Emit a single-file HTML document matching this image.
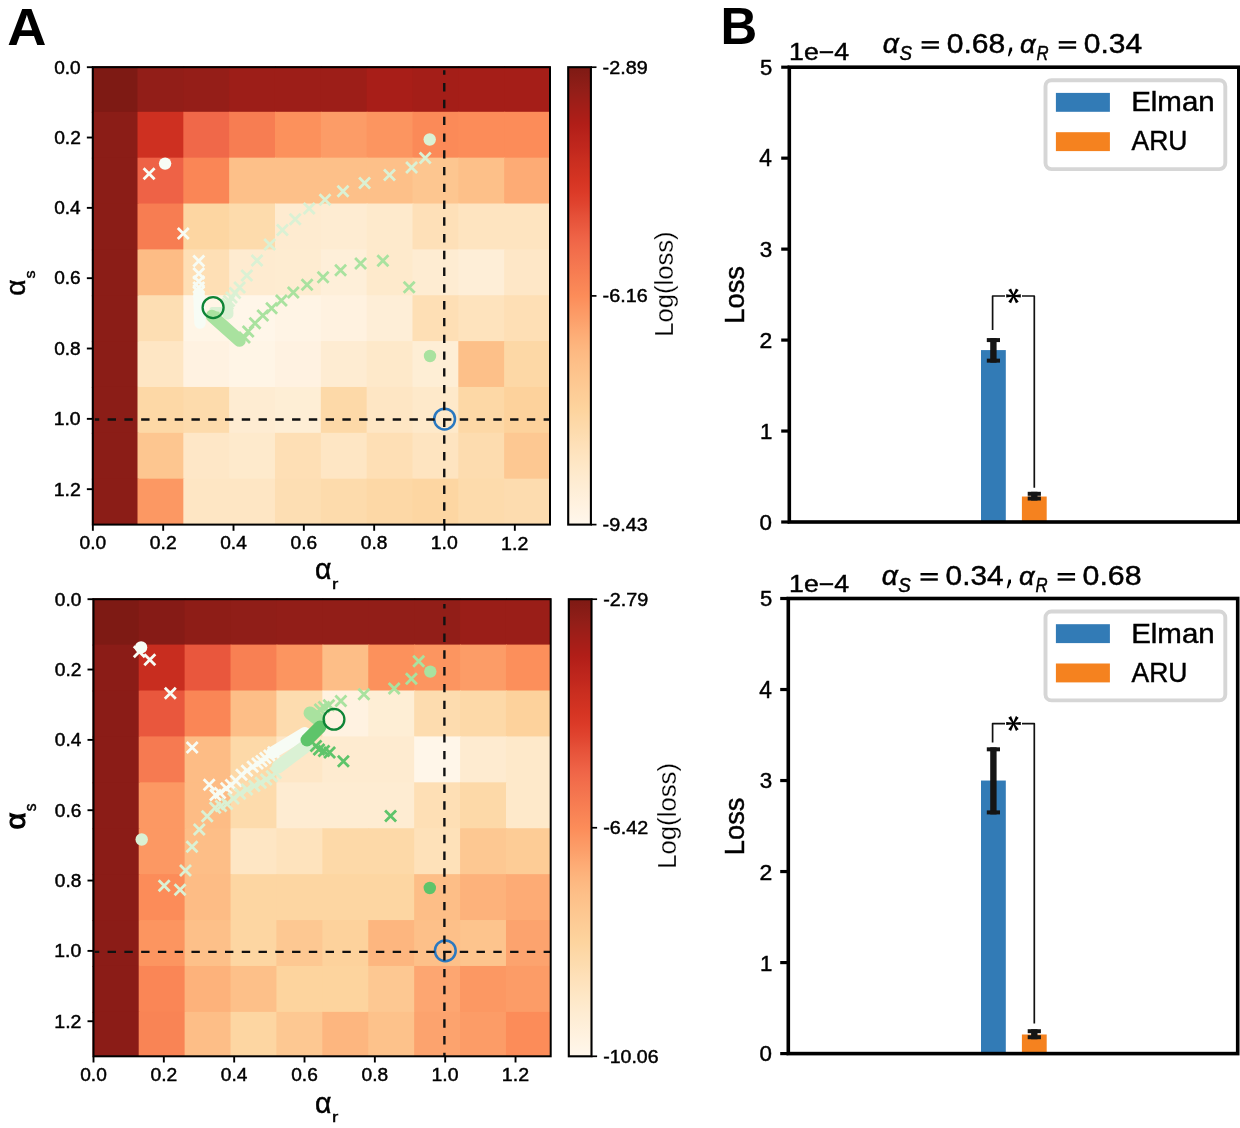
<!DOCTYPE html>
<html><head><meta charset="utf-8"><style>
html,body{margin:0;padding:0;background:#fff;width:1240px;height:1128px;overflow:hidden}
svg{display:block;will-change:transform}
text{font-family:"Liberation Sans", sans-serif}
</style></head><body>
<svg width="1240" height="1128" viewBox="0 0 1240 1128" font-family='"Liberation Sans", sans-serif'>
<rect width="1240" height="1128" fill="#fff"/>
<text x="7.37" y="45.23" font-size="52.50" textLength="39.17" lengthAdjust="spacingAndGlyphs" font-weight="bold" font-style="normal" fill="#000">A</text>
<text x="720.44" y="43.90" font-size="52.32" textLength="36.70" lengthAdjust="spacingAndGlyphs" font-weight="bold" font-style="normal" fill="#000">B</text>
<rect x="91.85" y="66.20" width="46.65" height="46.60" fill="#7e1a14"/>
<rect x="137.50" y="66.20" width="46.83" height="46.60" fill="#921e18"/>
<rect x="183.33" y="66.20" width="46.83" height="46.60" fill="#951e18"/>
<rect x="229.16" y="66.20" width="46.83" height="46.60" fill="#9d1e18"/>
<rect x="274.99" y="66.20" width="46.83" height="46.60" fill="#9d1e18"/>
<rect x="320.82" y="66.20" width="46.83" height="46.60" fill="#9d1e18"/>
<rect x="366.65" y="66.20" width="46.83" height="46.60" fill="#a81e18"/>
<rect x="412.48" y="66.20" width="46.83" height="46.60" fill="#a41e18"/>
<rect x="458.31" y="66.20" width="46.83" height="46.60" fill="#a51e18"/>
<rect x="504.14" y="66.20" width="46.16" height="46.60" fill="#a51e18"/>
<rect x="91.85" y="111.80" width="46.65" height="46.86" fill="#8b1d17"/>
<rect x="137.50" y="111.80" width="46.83" height="46.86" fill="#ce3021"/>
<rect x="183.33" y="111.80" width="46.83" height="46.86" fill="#f06849"/>
<rect x="229.16" y="111.80" width="46.83" height="46.86" fill="#f77d52"/>
<rect x="274.99" y="111.80" width="46.83" height="46.86" fill="#fc915c"/>
<rect x="320.82" y="111.80" width="46.83" height="46.86" fill="#fc9c67"/>
<rect x="366.65" y="111.80" width="46.83" height="46.86" fill="#fc9560"/>
<rect x="412.48" y="111.80" width="46.83" height="46.86" fill="#fb8a58"/>
<rect x="458.31" y="111.80" width="46.83" height="46.86" fill="#fc8c59"/>
<rect x="504.14" y="111.80" width="46.16" height="46.86" fill="#fc8c59"/>
<rect x="91.85" y="157.66" width="46.65" height="46.86" fill="#8b1d17"/>
<rect x="137.50" y="157.66" width="46.83" height="46.86" fill="#ee6246"/>
<rect x="183.33" y="157.66" width="46.83" height="46.86" fill="#fa8656"/>
<rect x="229.16" y="157.66" width="46.83" height="46.86" fill="#fdc089"/>
<rect x="274.99" y="157.66" width="46.83" height="46.86" fill="#fdc089"/>
<rect x="320.82" y="157.66" width="46.83" height="46.86" fill="#fdc089"/>
<rect x="366.65" y="157.66" width="46.83" height="46.86" fill="#fdc089"/>
<rect x="412.48" y="157.66" width="46.83" height="46.86" fill="#fdc690"/>
<rect x="458.31" y="157.66" width="46.83" height="46.86" fill="#fdc089"/>
<rect x="504.14" y="157.66" width="46.16" height="46.86" fill="#fdab75"/>
<rect x="91.85" y="203.52" width="46.65" height="46.86" fill="#8b1d17"/>
<rect x="137.50" y="203.52" width="46.83" height="46.86" fill="#f77d52"/>
<rect x="183.33" y="203.52" width="46.83" height="46.86" fill="#fdd6a2"/>
<rect x="229.16" y="203.52" width="46.83" height="46.86" fill="#fddbac"/>
<rect x="274.99" y="203.52" width="46.83" height="46.86" fill="#feebd0"/>
<rect x="320.82" y="203.52" width="46.83" height="46.86" fill="#feecd2"/>
<rect x="366.65" y="203.52" width="46.83" height="46.86" fill="#feeacc"/>
<rect x="412.48" y="203.52" width="46.83" height="46.86" fill="#fee0b8"/>
<rect x="458.31" y="203.52" width="46.83" height="46.86" fill="#fee4c0"/>
<rect x="504.14" y="203.52" width="46.16" height="46.86" fill="#fee4c0"/>
<rect x="91.85" y="249.38" width="46.65" height="46.86" fill="#8b1d17"/>
<rect x="137.50" y="249.38" width="46.83" height="46.86" fill="#fdbc85"/>
<rect x="183.33" y="249.38" width="46.83" height="46.86" fill="#fedfb5"/>
<rect x="229.16" y="249.38" width="46.83" height="46.86" fill="#feebd0"/>
<rect x="274.99" y="249.38" width="46.83" height="46.86" fill="#feecd1"/>
<rect x="320.82" y="249.38" width="46.83" height="46.86" fill="#feefd9"/>
<rect x="366.65" y="249.38" width="46.83" height="46.86" fill="#feeacc"/>
<rect x="412.48" y="249.38" width="46.83" height="46.86" fill="#feecd2"/>
<rect x="458.31" y="249.38" width="46.83" height="46.86" fill="#feeed7"/>
<rect x="504.14" y="249.38" width="46.16" height="46.86" fill="#fee7c7"/>
<rect x="91.85" y="295.24" width="46.65" height="46.86" fill="#8b1d17"/>
<rect x="137.50" y="295.24" width="46.83" height="46.86" fill="#fddeb3"/>
<rect x="183.33" y="295.24" width="46.83" height="46.86" fill="#fff5e6"/>
<rect x="229.16" y="295.24" width="46.83" height="46.86" fill="#fff6e9"/>
<rect x="274.99" y="295.24" width="46.83" height="46.86" fill="#fff4e5"/>
<rect x="320.82" y="295.24" width="46.83" height="46.86" fill="#fff2e0"/>
<rect x="366.65" y="295.24" width="46.83" height="46.86" fill="#feeed7"/>
<rect x="412.48" y="295.24" width="46.83" height="46.86" fill="#fedfb5"/>
<rect x="458.31" y="295.24" width="46.83" height="46.86" fill="#fee3bd"/>
<rect x="504.14" y="295.24" width="46.16" height="46.86" fill="#fedfb5"/>
<rect x="91.85" y="341.10" width="46.65" height="46.86" fill="#8b1d17"/>
<rect x="137.50" y="341.10" width="46.83" height="46.86" fill="#fee6c4"/>
<rect x="183.33" y="341.10" width="46.83" height="46.86" fill="#fff2e1"/>
<rect x="229.16" y="341.10" width="46.83" height="46.86" fill="#fff5e6"/>
<rect x="274.99" y="341.10" width="46.83" height="46.86" fill="#fff2e1"/>
<rect x="320.82" y="341.10" width="46.83" height="46.86" fill="#feecd2"/>
<rect x="366.65" y="341.10" width="46.83" height="46.86" fill="#fee9ca"/>
<rect x="412.48" y="341.10" width="46.83" height="46.86" fill="#feeed5"/>
<rect x="458.31" y="341.10" width="46.83" height="46.86" fill="#fdc089"/>
<rect x="504.14" y="341.10" width="46.16" height="46.86" fill="#fdd8a6"/>
<rect x="91.85" y="386.96" width="46.65" height="46.86" fill="#8b1d17"/>
<rect x="137.50" y="386.96" width="46.83" height="46.86" fill="#fdd8a6"/>
<rect x="183.33" y="386.96" width="46.83" height="46.86" fill="#fddbac"/>
<rect x="229.16" y="386.96" width="46.83" height="46.86" fill="#feecd2"/>
<rect x="274.99" y="386.96" width="46.83" height="46.86" fill="#feeed5"/>
<rect x="320.82" y="386.96" width="46.83" height="46.86" fill="#fdd9a8"/>
<rect x="366.65" y="386.96" width="46.83" height="46.86" fill="#fee6c4"/>
<rect x="412.48" y="386.96" width="46.83" height="46.86" fill="#fee9ca"/>
<rect x="458.31" y="386.96" width="46.83" height="46.86" fill="#fdd8a6"/>
<rect x="504.14" y="386.96" width="46.16" height="46.86" fill="#fdd29c"/>
<rect x="91.85" y="432.82" width="46.65" height="46.86" fill="#8b1d17"/>
<rect x="137.50" y="432.82" width="46.83" height="46.86" fill="#fdc690"/>
<rect x="183.33" y="432.82" width="46.83" height="46.86" fill="#fee7c7"/>
<rect x="229.16" y="432.82" width="46.83" height="46.86" fill="#feeacc"/>
<rect x="274.99" y="432.82" width="46.83" height="46.86" fill="#fedfb5"/>
<rect x="320.82" y="432.82" width="46.83" height="46.86" fill="#fee6c4"/>
<rect x="366.65" y="432.82" width="46.83" height="46.86" fill="#fedfb5"/>
<rect x="412.48" y="432.82" width="46.83" height="46.86" fill="#fee4c0"/>
<rect x="458.31" y="432.82" width="46.83" height="46.86" fill="#fddcaf"/>
<rect x="504.14" y="432.82" width="46.16" height="46.86" fill="#fdc892"/>
<rect x="91.85" y="478.68" width="46.65" height="46.22" fill="#8b1d17"/>
<rect x="137.50" y="478.68" width="46.83" height="46.22" fill="#fc9863"/>
<rect x="183.33" y="478.68" width="46.83" height="46.22" fill="#fee6c4"/>
<rect x="229.16" y="478.68" width="46.83" height="46.22" fill="#fee6c4"/>
<rect x="274.99" y="478.68" width="46.83" height="46.22" fill="#fddeb3"/>
<rect x="320.82" y="478.68" width="46.83" height="46.22" fill="#fddbac"/>
<rect x="366.65" y="478.68" width="46.83" height="46.22" fill="#fdd8a6"/>
<rect x="412.48" y="478.68" width="46.83" height="46.22" fill="#fdd6a2"/>
<rect x="458.31" y="478.68" width="46.83" height="46.22" fill="#fddbac"/>
<rect x="504.14" y="478.68" width="46.16" height="46.22" fill="#fddcaf"/>
<circle cx="165.10" cy="163.60" r="6.20" fill="#f7fcf5"/>
<path d="M143.60 168.30L154.60 179.30M143.60 179.30L154.60 168.30" stroke="#f7fcf5" stroke-width="2.80" fill="none"/>
<path d="M177.80 228.00L188.80 239.00M177.80 239.00L188.80 228.00" stroke="#f7fcf5" stroke-width="2.80" fill="none"/>
<path d="M193.30 255.50L204.30 266.50M193.30 266.50L204.30 255.50" stroke="#f7fcf5" stroke-width="2.80" fill="none"/>
<path d="M193.30 267.90L204.30 278.90M193.30 278.90L204.30 267.90" stroke="#f7fcf5" stroke-width="2.80" fill="none"/>
<path d="M193.30 276.00L204.30 287.00M193.30 287.00L204.30 276.00" stroke="#f7fcf5" stroke-width="2.80" fill="none"/>
<path d="M193.30 282.00L204.30 293.00M193.30 293.00L204.30 282.00" stroke="#f7fcf5" stroke-width="2.80" fill="none"/>
<path d="M193.30 286.50L204.30 297.50M193.30 297.50L204.30 286.50" stroke="#f7fcf5" stroke-width="2.80" fill="none"/>
<path d="M199.00 294.00 L199.50 310.00 L200.00 323.00" stroke="#f7fcf5" stroke-width="11.50" fill="none" stroke-linecap="round" stroke-linejoin="round"/>
<circle cx="429.70" cy="139.50" r="6.20" fill="#daf1d4"/>
<path d="M419.70 152.50L430.70 163.50M419.70 163.50L430.70 152.50" stroke="#daf1d4" stroke-width="2.80" fill="none"/>
<path d="M406.10 162.10L417.10 173.10M406.10 173.10L417.10 162.10" stroke="#daf1d4" stroke-width="2.80" fill="none"/>
<path d="M384.00 169.50L395.00 180.50M384.00 180.50L395.00 169.50" stroke="#daf1d4" stroke-width="2.80" fill="none"/>
<path d="M359.10 177.50L370.10 188.50M359.10 188.50L370.10 177.50" stroke="#daf1d4" stroke-width="2.80" fill="none"/>
<path d="M337.50 185.80L348.50 196.80M337.50 196.80L348.50 185.80" stroke="#daf1d4" stroke-width="2.80" fill="none"/>
<path d="M319.50 194.30L330.50 205.30M319.50 205.30L330.50 194.30" stroke="#daf1d4" stroke-width="2.80" fill="none"/>
<path d="M303.70 203.10L314.70 214.10M303.70 214.10L314.70 203.10" stroke="#daf1d4" stroke-width="2.80" fill="none"/>
<path d="M289.70 213.80L300.70 224.80M289.70 224.80L300.70 213.80" stroke="#daf1d4" stroke-width="2.80" fill="none"/>
<path d="M276.90 224.60L287.90 235.60M276.90 235.60L287.90 224.60" stroke="#daf1d4" stroke-width="2.80" fill="none"/>
<path d="M264.20 238.90L275.20 249.90M264.20 249.90L275.20 238.90" stroke="#daf1d4" stroke-width="2.80" fill="none"/>
<path d="M251.50 255.00L262.50 266.00M251.50 266.00L262.50 255.00" stroke="#daf1d4" stroke-width="2.80" fill="none"/>
<path d="M241.30 270.10L252.30 281.10M241.30 281.10L252.30 270.10" stroke="#daf1d4" stroke-width="2.80" fill="none"/>
<path d="M234.10 281.90L245.10 292.90M234.10 292.90L245.10 281.90" stroke="#daf1d4" stroke-width="2.80" fill="none"/>
<path d="M229.50 287.50L240.50 298.50M229.50 298.50L240.50 287.50" stroke="#daf1d4" stroke-width="2.80" fill="none"/>
<path d="M226.00 292.00L237.00 303.00M226.00 303.00L237.00 292.00" stroke="#daf1d4" stroke-width="2.80" fill="none"/>
<path d="M223.50 295.50L234.50 306.50M223.50 306.50L234.50 295.50" stroke="#daf1d4" stroke-width="2.80" fill="none"/>
<path d="M222.00 298.50L233.00 309.50M222.00 309.50L233.00 298.50" stroke="#daf1d4" stroke-width="2.80" fill="none"/>
<path d="M227.50 307.00 L228.00 314.00" stroke="#daf1d4" stroke-width="11.00" fill="none" stroke-linecap="round" stroke-linejoin="round"/>
<path d="M212.00 309.50 L221.00 309.50" stroke="#daf1d4" stroke-width="5.00" fill="none" stroke-linecap="round" stroke-linejoin="round"/>
<circle cx="430.00" cy="356.00" r="6.20" fill="#a9e29f"/>
<path d="M403.70 281.70L414.70 292.70M403.70 292.70L414.70 281.70" stroke="#a9e29f" stroke-width="2.80" fill="none"/>
<path d="M377.40 255.20L388.40 266.20M377.40 266.20L388.40 255.20" stroke="#a9e29f" stroke-width="2.80" fill="none"/>
<path d="M355.10 258.10L366.10 269.10M355.10 269.10L366.10 258.10" stroke="#a9e29f" stroke-width="2.80" fill="none"/>
<path d="M335.10 264.80L346.10 275.80M335.10 275.80L346.10 264.80" stroke="#a9e29f" stroke-width="2.80" fill="none"/>
<path d="M317.60 271.70L328.60 282.70M317.60 282.70L328.60 271.70" stroke="#a9e29f" stroke-width="2.80" fill="none"/>
<path d="M301.60 279.20L312.60 290.20M301.60 290.20L312.60 279.20" stroke="#a9e29f" stroke-width="2.80" fill="none"/>
<path d="M287.80 286.90L298.80 297.90M287.80 297.90L298.80 286.90" stroke="#a9e29f" stroke-width="2.80" fill="none"/>
<path d="M275.90 294.90L286.90 305.90M275.90 305.90L286.90 294.90" stroke="#a9e29f" stroke-width="2.80" fill="none"/>
<path d="M266.10 302.70L277.10 313.70M266.10 313.70L277.10 302.70" stroke="#a9e29f" stroke-width="2.80" fill="none"/>
<path d="M257.30 310.00L268.30 321.00M257.30 321.00L268.30 310.00" stroke="#a9e29f" stroke-width="2.80" fill="none"/>
<path d="M249.50 317.80L260.50 328.80M249.50 328.80L260.50 317.80" stroke="#a9e29f" stroke-width="2.80" fill="none"/>
<path d="M242.70 326.10L253.70 337.10M242.70 337.10L253.70 326.10" stroke="#a9e29f" stroke-width="2.80" fill="none"/>
<path d="M239.00 332.00L250.00 343.00M239.00 343.00L250.00 332.00" stroke="#a9e29f" stroke-width="2.80" fill="none"/>
<path d="M212.00 316.00 L239.50 340.50" stroke="#a9e29f" stroke-width="12.50" fill="none" stroke-linecap="round" stroke-linejoin="round"/>
<path d="M209.00 313.50 L218.00 313.50" stroke="#a9e29f" stroke-width="4.00" fill="none" stroke-linecap="round" stroke-linejoin="round"/>
<circle cx="213.10" cy="307.60" r="10.50" fill="none" stroke="#0e8436" stroke-width="2.30"/>
<circle cx="444.60" cy="419.05" r="10.40" fill="none" stroke="#2a78c0" stroke-width="2.50"/>
<line x1="444.25" y1="70.20" x2="444.25" y2="524.60" stroke="#111" stroke-width="2.4" stroke-dasharray="8.4 8.37" stroke-dashoffset="3.87"/>
<line x1="94.80" y1="419.50" x2="550.00" y2="419.50" stroke="#111" stroke-width="2.4" stroke-dasharray="8.4 8.37" stroke-dashoffset="3.97"/>
<rect x="92.85" y="67.20" width="457.15" height="457.40" fill="none" stroke="#000" stroke-width="2.0"/>
<line x1="86.85" y1="67.20" x2="92.85" y2="67.20" stroke="#000" stroke-width="1.9"/>
<line x1="92.85" y1="524.60" x2="92.85" y2="530.80" stroke="#000" stroke-width="1.9"/>
<text x="54.16" y="73.50" font-size="17.96" textLength="26.48" lengthAdjust="spacingAndGlyphs" font-weight="normal" font-style="normal" fill="#000" stroke="#000" stroke-width="0.45">0.0</text>
<text x="79.56" y="549.49" font-size="18.24" textLength="26.58" lengthAdjust="spacingAndGlyphs" font-weight="normal" font-style="normal" fill="#000" stroke="#000" stroke-width="0.45">0.0</text>
<line x1="86.85" y1="137.53" x2="92.85" y2="137.53" stroke="#000" stroke-width="1.9"/>
<line x1="163.18" y1="524.60" x2="163.18" y2="530.80" stroke="#000" stroke-width="1.9"/>
<text x="54.16" y="143.83" font-size="17.96" textLength="26.68" lengthAdjust="spacingAndGlyphs" font-weight="normal" font-style="normal" fill="#000" stroke="#000" stroke-width="0.45">0.2</text>
<text x="149.88" y="549.49" font-size="18.24" textLength="26.79" lengthAdjust="spacingAndGlyphs" font-weight="normal" font-style="normal" fill="#000" stroke="#000" stroke-width="0.45">0.2</text>
<line x1="86.85" y1="207.86" x2="92.85" y2="207.86" stroke="#000" stroke-width="1.9"/>
<line x1="233.51" y1="524.60" x2="233.51" y2="530.80" stroke="#000" stroke-width="1.9"/>
<text x="54.16" y="214.16" font-size="17.96" textLength="26.48" lengthAdjust="spacingAndGlyphs" font-weight="normal" font-style="normal" fill="#000" stroke="#000" stroke-width="0.45">0.4</text>
<text x="220.22" y="549.49" font-size="18.24" textLength="26.58" lengthAdjust="spacingAndGlyphs" font-weight="normal" font-style="normal" fill="#000" stroke="#000" stroke-width="0.45">0.4</text>
<line x1="86.85" y1="278.19" x2="92.85" y2="278.19" stroke="#000" stroke-width="1.9"/>
<line x1="303.84" y1="524.60" x2="303.84" y2="530.80" stroke="#000" stroke-width="1.9"/>
<text x="54.16" y="284.49" font-size="17.96" textLength="26.48" lengthAdjust="spacingAndGlyphs" font-weight="normal" font-style="normal" fill="#000" stroke="#000" stroke-width="0.45">0.6</text>
<text x="290.55" y="549.49" font-size="18.24" textLength="26.58" lengthAdjust="spacingAndGlyphs" font-weight="normal" font-style="normal" fill="#000" stroke="#000" stroke-width="0.45">0.6</text>
<line x1="86.85" y1="348.52" x2="92.85" y2="348.52" stroke="#000" stroke-width="1.9"/>
<line x1="374.17" y1="524.60" x2="374.17" y2="530.80" stroke="#000" stroke-width="1.9"/>
<text x="54.16" y="354.82" font-size="17.96" textLength="26.48" lengthAdjust="spacingAndGlyphs" font-weight="normal" font-style="normal" fill="#000" stroke="#000" stroke-width="0.45">0.8</text>
<text x="360.88" y="549.49" font-size="18.24" textLength="26.58" lengthAdjust="spacingAndGlyphs" font-weight="normal" font-style="normal" fill="#000" stroke="#000" stroke-width="0.45">0.8</text>
<line x1="86.85" y1="418.85" x2="92.85" y2="418.85" stroke="#000" stroke-width="1.9"/>
<line x1="444.50" y1="524.60" x2="444.50" y2="530.80" stroke="#000" stroke-width="1.9"/>
<text x="53.67" y="425.15" font-size="17.96" textLength="26.98" lengthAdjust="spacingAndGlyphs" font-weight="normal" font-style="normal" fill="#000" stroke="#000" stroke-width="0.45">1.0</text>
<text x="430.77" y="549.49" font-size="18.24" textLength="27.04" lengthAdjust="spacingAndGlyphs" font-weight="normal" font-style="normal" fill="#000" stroke="#000" stroke-width="0.45">1.0</text>
<line x1="86.85" y1="489.18" x2="92.85" y2="489.18" stroke="#000" stroke-width="1.9"/>
<line x1="514.83" y1="524.60" x2="514.83" y2="530.80" stroke="#000" stroke-width="1.9"/>
<text x="53.66" y="495.66" font-size="18.21" textLength="27.20" lengthAdjust="spacingAndGlyphs" font-weight="normal" font-style="normal" fill="#000" stroke="#000" stroke-width="0.45">1.2</text>
<text x="501.09" y="549.67" font-size="18.50" textLength="27.25" lengthAdjust="spacingAndGlyphs" font-weight="normal" font-style="normal" fill="#000" stroke="#000" stroke-width="0.45">1.2</text>
<text x="315.08" y="578.99" font-size="28.64" textLength="16.49" lengthAdjust="spacingAndGlyphs" font-weight="normal" font-style="normal" fill="#000" stroke="#000" stroke-width="0.45">&#945;</text>
<text x="331.90" y="588.67" font-size="15.46" textLength="6.33" lengthAdjust="spacingAndGlyphs" font-weight="normal" font-style="normal" fill="#000" stroke="#000" stroke-width="0.45">r</text>
<g transform="rotate(-90)">
<text x="-295.70" y="24.49" font-size="28.45" textLength="16.27" lengthAdjust="spacingAndGlyphs" font-weight="normal" font-style="normal" fill="#000" stroke="#000" stroke-width="0.45">&#945;</text>
</g>
<g transform="rotate(-90)">
<text x="-278.45" y="34.62" font-size="15.55" textLength="7.97" lengthAdjust="spacingAndGlyphs" font-weight="normal" font-style="normal" fill="#000" stroke="#000" stroke-width="0.45">s</text>
</g>
<defs><linearGradient id="g67" x1="0" y1="0" x2="0" y2="1"><stop offset="0.000" stop-color="#7e1a14"/><stop offset="0.025" stop-color="#881c16"/><stop offset="0.050" stop-color="#921e18"/><stop offset="0.075" stop-color="#9d1e18"/><stop offset="0.100" stop-color="#a71e18"/><stop offset="0.125" stop-color="#b11e18"/><stop offset="0.150" stop-color="#b9231b"/><stop offset="0.175" stop-color="#c0271d"/><stop offset="0.200" stop-color="#c82d1f"/><stop offset="0.225" stop-color="#cf3121"/><stop offset="0.250" stop-color="#d63523"/><stop offset="0.275" stop-color="#dc3b28"/><stop offset="0.300" stop-color="#e0442f"/><stop offset="0.325" stop-color="#e55038"/><stop offset="0.350" stop-color="#ea5a3f"/><stop offset="0.375" stop-color="#ef6447"/><stop offset="0.400" stop-color="#f26d4b"/><stop offset="0.425" stop-color="#f4754f"/><stop offset="0.450" stop-color="#f77d52"/><stop offset="0.475" stop-color="#f98556"/><stop offset="0.500" stop-color="#fc8c59"/><stop offset="0.525" stop-color="#fc9662"/><stop offset="0.550" stop-color="#fc9f6a"/><stop offset="0.575" stop-color="#fda973"/><stop offset="0.600" stop-color="#fdb27b"/><stop offset="0.625" stop-color="#fdba83"/><stop offset="0.650" stop-color="#fdc089"/><stop offset="0.675" stop-color="#fdc58e"/><stop offset="0.700" stop-color="#fdca94"/><stop offset="0.725" stop-color="#fdcf99"/><stop offset="0.750" stop-color="#fdd49e"/><stop offset="0.775" stop-color="#fdd8a7"/><stop offset="0.800" stop-color="#fddcaf"/><stop offset="0.825" stop-color="#fee0b8"/><stop offset="0.850" stop-color="#fee4c0"/><stop offset="0.875" stop-color="#fee8c8"/><stop offset="0.900" stop-color="#feebd0"/><stop offset="0.925" stop-color="#feeed7"/><stop offset="0.950" stop-color="#fff1de"/><stop offset="0.975" stop-color="#fff4e5"/><stop offset="1.000" stop-color="#fff7ec"/></linearGradient></defs>
<rect x="568.20" y="67.20" width="22.70" height="457.40" fill="url(#g67)" stroke="#000" stroke-width="2.1"/>
<line x1="590.90" y1="67.20" x2="596.50" y2="67.20" stroke="#000" stroke-width="1.7"/>
<text x="602.64" y="73.59" font-size="18.24" textLength="45.02" lengthAdjust="spacingAndGlyphs" font-weight="normal" font-style="normal" fill="#000" stroke="#000" stroke-width="0.45">-2.89</text>
<line x1="590.90" y1="295.90" x2="596.50" y2="295.90" stroke="#000" stroke-width="1.7"/>
<text x="602.64" y="302.29" font-size="18.24" textLength="45.02" lengthAdjust="spacingAndGlyphs" font-weight="normal" font-style="normal" fill="#000" stroke="#000" stroke-width="0.45">-6.16</text>
<line x1="590.90" y1="524.60" x2="596.50" y2="524.60" stroke="#000" stroke-width="1.7"/>
<text x="602.64" y="530.99" font-size="18.24" textLength="45.02" lengthAdjust="spacingAndGlyphs" font-weight="normal" font-style="normal" fill="#000" stroke="#000" stroke-width="0.45">-9.43</text>
<g transform="rotate(-90)">
<text x="-336.85" y="672.64" font-size="25.53" textLength="105.46" lengthAdjust="spacingAndGlyphs" font-weight="normal" font-style="normal" fill="#000" stroke="#fff" stroke-width="0.25">Log(loss)</text>
</g>
<rect x="92.50" y="598.20" width="47.20" height="47.40" fill="#7e1a14"/>
<rect x="138.70" y="598.20" width="46.91" height="47.40" fill="#861b16"/>
<rect x="184.61" y="598.20" width="46.91" height="47.40" fill="#8e1d17"/>
<rect x="230.52" y="598.20" width="46.91" height="47.40" fill="#901e18"/>
<rect x="276.43" y="598.20" width="46.91" height="47.40" fill="#921e18"/>
<rect x="322.34" y="598.20" width="46.91" height="47.40" fill="#921e18"/>
<rect x="368.25" y="598.20" width="46.91" height="47.40" fill="#921e18"/>
<rect x="414.16" y="598.20" width="46.91" height="47.40" fill="#921e18"/>
<rect x="460.07" y="598.20" width="46.91" height="47.40" fill="#9a1e18"/>
<rect x="505.98" y="598.20" width="45.02" height="47.40" fill="#9a1e18"/>
<rect x="92.50" y="644.60" width="47.20" height="46.91" fill="#8b1c17"/>
<rect x="138.70" y="644.60" width="46.91" height="46.91" fill="#c82d1f"/>
<rect x="184.61" y="644.60" width="46.91" height="46.91" fill="#e9573d"/>
<rect x="230.52" y="644.60" width="46.91" height="46.91" fill="#f88053"/>
<rect x="276.43" y="644.60" width="46.91" height="46.91" fill="#fc9560"/>
<rect x="322.34" y="644.60" width="46.91" height="46.91" fill="#fdbe87"/>
<rect x="368.25" y="644.60" width="46.91" height="46.91" fill="#fc915c"/>
<rect x="414.16" y="644.60" width="46.91" height="46.91" fill="#fc9560"/>
<rect x="460.07" y="644.60" width="46.91" height="46.91" fill="#fc9c67"/>
<rect x="505.98" y="644.60" width="45.02" height="46.91" fill="#fc8f5b"/>
<rect x="92.50" y="690.51" width="47.20" height="46.91" fill="#8b1c17"/>
<rect x="138.70" y="690.51" width="46.91" height="46.91" fill="#e9573d"/>
<rect x="184.61" y="690.51" width="46.91" height="46.91" fill="#fa8656"/>
<rect x="230.52" y="690.51" width="46.91" height="46.91" fill="#fdbe87"/>
<rect x="276.43" y="690.51" width="46.91" height="46.91" fill="#fddcaf"/>
<rect x="322.34" y="690.51" width="46.91" height="46.91" fill="#fff2e1"/>
<rect x="368.25" y="690.51" width="46.91" height="46.91" fill="#feeed5"/>
<rect x="414.16" y="690.51" width="46.91" height="46.91" fill="#fddcaf"/>
<rect x="460.07" y="690.51" width="46.91" height="46.91" fill="#fdd9a8"/>
<rect x="505.98" y="690.51" width="45.02" height="46.91" fill="#fdd29c"/>
<rect x="92.50" y="736.42" width="47.20" height="46.91" fill="#8b1c17"/>
<rect x="138.70" y="736.42" width="46.91" height="46.91" fill="#f67a51"/>
<rect x="184.61" y="736.42" width="46.91" height="46.91" fill="#fdbc85"/>
<rect x="230.52" y="736.42" width="46.91" height="46.91" fill="#fdd9a8"/>
<rect x="276.43" y="736.42" width="46.91" height="46.91" fill="#fee7c7"/>
<rect x="322.34" y="736.42" width="46.91" height="46.91" fill="#feebd0"/>
<rect x="368.25" y="736.42" width="46.91" height="46.91" fill="#feebd0"/>
<rect x="414.16" y="736.42" width="46.91" height="46.91" fill="#fff6e9"/>
<rect x="460.07" y="736.42" width="46.91" height="46.91" fill="#feebd0"/>
<rect x="505.98" y="736.42" width="45.02" height="46.91" fill="#fee9ca"/>
<rect x="92.50" y="782.33" width="47.20" height="46.91" fill="#8b1c17"/>
<rect x="138.70" y="782.33" width="46.91" height="46.91" fill="#fc9863"/>
<rect x="184.61" y="782.33" width="46.91" height="46.91" fill="#fdbc85"/>
<rect x="230.52" y="782.33" width="46.91" height="46.91" fill="#fddbac"/>
<rect x="276.43" y="782.33" width="46.91" height="46.91" fill="#feecd2"/>
<rect x="322.34" y="782.33" width="46.91" height="46.91" fill="#feecd2"/>
<rect x="368.25" y="782.33" width="46.91" height="46.91" fill="#feecd2"/>
<rect x="414.16" y="782.33" width="46.91" height="46.91" fill="#fedfb5"/>
<rect x="460.07" y="782.33" width="46.91" height="46.91" fill="#fdd9a8"/>
<rect x="505.98" y="782.33" width="45.02" height="46.91" fill="#fee9ca"/>
<rect x="92.50" y="828.24" width="47.20" height="46.91" fill="#8b1c17"/>
<rect x="138.70" y="828.24" width="46.91" height="46.91" fill="#fc9863"/>
<rect x="184.61" y="828.24" width="46.91" height="46.91" fill="#fdbe87"/>
<rect x="230.52" y="828.24" width="46.91" height="46.91" fill="#fee6c4"/>
<rect x="276.43" y="828.24" width="46.91" height="46.91" fill="#fee3bd"/>
<rect x="322.34" y="828.24" width="46.91" height="46.91" fill="#fdd9a8"/>
<rect x="368.25" y="828.24" width="46.91" height="46.91" fill="#fdd9a8"/>
<rect x="414.16" y="828.24" width="46.91" height="46.91" fill="#fee1b9"/>
<rect x="460.07" y="828.24" width="46.91" height="46.91" fill="#fdc892"/>
<rect x="505.98" y="828.24" width="45.02" height="46.91" fill="#fdcc96"/>
<rect x="92.50" y="874.15" width="47.20" height="46.91" fill="#8b1c17"/>
<rect x="138.70" y="874.15" width="46.91" height="46.91" fill="#fc8c59"/>
<rect x="184.61" y="874.15" width="46.91" height="46.91" fill="#fdbc85"/>
<rect x="230.52" y="874.15" width="46.91" height="46.91" fill="#fdd6a2"/>
<rect x="276.43" y="874.15" width="46.91" height="46.91" fill="#fdd6a2"/>
<rect x="322.34" y="874.15" width="46.91" height="46.91" fill="#fdd6a2"/>
<rect x="368.25" y="874.15" width="46.91" height="46.91" fill="#fdd6a2"/>
<rect x="414.16" y="874.15" width="46.91" height="46.91" fill="#fdbe87"/>
<rect x="460.07" y="874.15" width="46.91" height="46.91" fill="#fdb27b"/>
<rect x="505.98" y="874.15" width="45.02" height="46.91" fill="#fdab75"/>
<rect x="92.50" y="920.06" width="47.20" height="46.91" fill="#8b1c17"/>
<rect x="138.70" y="920.06" width="46.91" height="46.91" fill="#fc9560"/>
<rect x="184.61" y="920.06" width="46.91" height="46.91" fill="#fdc089"/>
<rect x="230.52" y="920.06" width="46.91" height="46.91" fill="#fdd6a2"/>
<rect x="276.43" y="920.06" width="46.91" height="46.91" fill="#fdc892"/>
<rect x="322.34" y="920.06" width="46.91" height="46.91" fill="#fdd29c"/>
<rect x="368.25" y="920.06" width="46.91" height="46.91" fill="#fdb67f"/>
<rect x="414.16" y="920.06" width="46.91" height="46.91" fill="#fdc089"/>
<rect x="460.07" y="920.06" width="46.91" height="46.91" fill="#fdc48d"/>
<rect x="505.98" y="920.06" width="45.02" height="46.91" fill="#fca36e"/>
<rect x="92.50" y="965.97" width="47.20" height="46.91" fill="#8b1c17"/>
<rect x="138.70" y="965.97" width="46.91" height="46.91" fill="#fa8656"/>
<rect x="184.61" y="965.97" width="46.91" height="46.91" fill="#fdb27b"/>
<rect x="230.52" y="965.97" width="46.91" height="46.91" fill="#fdc089"/>
<rect x="276.43" y="965.97" width="46.91" height="46.91" fill="#fdd49e"/>
<rect x="322.34" y="965.97" width="46.91" height="46.91" fill="#fdd49e"/>
<rect x="368.25" y="965.97" width="46.91" height="46.91" fill="#fdc892"/>
<rect x="414.16" y="965.97" width="46.91" height="46.91" fill="#fda671"/>
<rect x="460.07" y="965.97" width="46.91" height="46.91" fill="#fc9863"/>
<rect x="505.98" y="965.97" width="45.02" height="46.91" fill="#fc9c67"/>
<rect x="92.50" y="1011.88" width="47.20" height="44.72" fill="#8b1c17"/>
<rect x="138.70" y="1011.88" width="46.91" height="44.72" fill="#f98455"/>
<rect x="184.61" y="1011.88" width="46.91" height="44.72" fill="#fdbe87"/>
<rect x="230.52" y="1011.88" width="46.91" height="44.72" fill="#fdd6a2"/>
<rect x="276.43" y="1011.88" width="46.91" height="44.72" fill="#fdc892"/>
<rect x="322.34" y="1011.88" width="46.91" height="44.72" fill="#fdb67f"/>
<rect x="368.25" y="1011.88" width="46.91" height="44.72" fill="#fdc28b"/>
<rect x="414.16" y="1011.88" width="46.91" height="44.72" fill="#fca36e"/>
<rect x="460.07" y="1011.88" width="46.91" height="44.72" fill="#fc9c67"/>
<rect x="505.98" y="1011.88" width="45.02" height="44.72" fill="#fc8c59"/>
<circle cx="141.10" cy="647.40" r="6.20" fill="#f7fcf5"/>
<path d="M133.80 646.20L144.80 657.20M133.80 657.20L144.80 646.20" stroke="#f7fcf5" stroke-width="2.80" fill="none"/>
<path d="M144.30 654.30L155.30 665.30M144.30 665.30L155.30 654.30" stroke="#f7fcf5" stroke-width="2.80" fill="none"/>
<path d="M164.80 687.80L175.80 698.80M164.80 698.80L175.80 687.80" stroke="#f7fcf5" stroke-width="2.80" fill="none"/>
<path d="M186.70 742.00L197.70 753.00M186.70 753.00L197.70 742.00" stroke="#f7fcf5" stroke-width="2.80" fill="none"/>
<path d="M203.70 779.20L214.70 790.20M203.70 790.20L214.70 779.20" stroke="#f7fcf5" stroke-width="2.80" fill="none"/>
<path d="M210.00 789.50L221.00 800.50M210.00 800.50L221.00 789.50" stroke="#f7fcf5" stroke-width="2.80" fill="none"/>
<path d="M214.50 787.50L225.50 798.50M214.50 798.50L225.50 787.50" stroke="#f7fcf5" stroke-width="2.80" fill="none"/>
<path d="M220.80 782.80L231.80 793.80M220.80 793.80L231.80 782.80" stroke="#f7fcf5" stroke-width="2.80" fill="none"/>
<path d="M225.50 779.50L236.50 790.50M225.50 790.50L236.50 779.50" stroke="#f7fcf5" stroke-width="2.80" fill="none"/>
<path d="M230.50 775.50L241.50 786.50M230.50 786.50L241.50 775.50" stroke="#f7fcf5" stroke-width="2.80" fill="none"/>
<path d="M236.00 769.20L247.00 780.20M236.00 780.20L247.00 769.20" stroke="#f7fcf5" stroke-width="2.80" fill="none"/>
<path d="M241.50 765.20L252.50 776.20M241.50 776.20L252.50 765.20" stroke="#f7fcf5" stroke-width="2.80" fill="none"/>
<path d="M247.20 761.20L258.20 772.20M247.20 772.20L258.20 761.20" stroke="#f7fcf5" stroke-width="2.80" fill="none"/>
<path d="M252.00 758.00L263.00 769.00M252.00 769.00L263.00 758.00" stroke="#f7fcf5" stroke-width="2.80" fill="none"/>
<path d="M256.00 755.50L267.00 766.50M256.00 766.50L267.00 755.50" stroke="#f7fcf5" stroke-width="2.80" fill="none"/>
<path d="M259.90 752.50L270.90 763.50M259.90 763.50L270.90 752.50" stroke="#f7fcf5" stroke-width="2.80" fill="none"/>
<path d="M263.90 750.00L274.90 761.00M263.90 761.00L274.90 750.00" stroke="#f7fcf5" stroke-width="2.80" fill="none"/>
<path d="M267.90 746.80L278.90 757.80M267.90 757.80L278.90 746.80" stroke="#f7fcf5" stroke-width="2.80" fill="none"/>
<path d="M272.00 753.00 L305.00 733.00" stroke="#f7fcf5" stroke-width="12.00" fill="none" stroke-linecap="round" stroke-linejoin="round"/>
<circle cx="141.70" cy="839.50" r="6.20" fill="#daf1d4"/>
<path d="M158.70 880.30L169.70 891.30M158.70 891.30L169.70 880.30" stroke="#daf1d4" stroke-width="2.80" fill="none"/>
<path d="M174.60 884.20L185.60 895.20M174.60 895.20L185.60 884.20" stroke="#daf1d4" stroke-width="2.80" fill="none"/>
<path d="M180.00 865.10L191.00 876.10M180.00 876.10L191.00 865.10" stroke="#daf1d4" stroke-width="2.80" fill="none"/>
<path d="M186.50 841.30L197.50 852.30M186.50 852.30L197.50 841.30" stroke="#daf1d4" stroke-width="2.80" fill="none"/>
<path d="M193.80 823.90L204.80 834.90M193.80 834.90L204.80 823.90" stroke="#daf1d4" stroke-width="2.80" fill="none"/>
<path d="M201.70 810.70L212.70 821.70M201.70 821.70L212.70 810.70" stroke="#daf1d4" stroke-width="2.80" fill="none"/>
<path d="M209.70 802.30L220.70 813.30M209.70 813.30L220.70 802.30" stroke="#daf1d4" stroke-width="2.80" fill="none"/>
<path d="M215.50 800.50L226.50 811.50M215.50 811.50L226.50 800.50" stroke="#daf1d4" stroke-width="2.80" fill="none"/>
<path d="M221.50 798.50L232.50 809.50M221.50 809.50L232.50 798.50" stroke="#daf1d4" stroke-width="2.80" fill="none"/>
<path d="M228.00 793.10L239.00 804.10M228.00 804.10L239.00 793.10" stroke="#daf1d4" stroke-width="2.80" fill="none"/>
<path d="M234.50 788.30L245.50 799.30M234.50 799.30L245.50 788.30" stroke="#daf1d4" stroke-width="2.80" fill="none"/>
<path d="M241.50 784.00L252.50 795.00M241.50 795.00L252.50 784.00" stroke="#daf1d4" stroke-width="2.80" fill="none"/>
<path d="M248.80 780.40L259.80 791.40M248.80 791.40L259.80 780.40" stroke="#daf1d4" stroke-width="2.80" fill="none"/>
<path d="M255.20 777.20L266.20 788.20M255.20 788.20L266.20 777.20" stroke="#daf1d4" stroke-width="2.80" fill="none"/>
<path d="M260.70 774.00L271.70 785.00M260.70 785.00L271.70 774.00" stroke="#daf1d4" stroke-width="2.80" fill="none"/>
<path d="M266.30 770.80L277.30 781.80M266.30 781.80L277.30 770.80" stroke="#daf1d4" stroke-width="2.80" fill="none"/>
<path d="M270.30 767.60L281.30 778.60M270.30 778.60L281.30 767.60" stroke="#daf1d4" stroke-width="2.80" fill="none"/>
<path d="M278.00 767.00 L306.00 746.00" stroke="#daf1d4" stroke-width="13.00" fill="none" stroke-linecap="round" stroke-linejoin="round"/>
<circle cx="430.30" cy="671.60" r="6.20" fill="#a9e29f"/>
<path d="M413.20 655.80L424.20 666.80M413.20 666.80L424.20 655.80" stroke="#a9e29f" stroke-width="2.80" fill="none"/>
<path d="M405.90 673.20L416.90 684.20M405.90 684.20L416.90 673.20" stroke="#a9e29f" stroke-width="2.80" fill="none"/>
<path d="M388.70 682.90L399.70 693.90M388.70 693.90L399.70 682.90" stroke="#a9e29f" stroke-width="2.80" fill="none"/>
<path d="M358.40 688.70L369.40 699.70M358.40 699.70L369.40 688.70" stroke="#a9e29f" stroke-width="2.80" fill="none"/>
<path d="M335.40 695.50L346.40 706.50M335.40 706.50L346.40 695.50" stroke="#a9e29f" stroke-width="2.80" fill="none"/>
<path d="M323.40 699.70L334.40 710.70M323.40 710.70L334.40 699.70" stroke="#a9e29f" stroke-width="2.80" fill="none"/>
<path d="M318.50 701.50L329.50 712.50M318.50 712.50L329.50 701.50" stroke="#a9e29f" stroke-width="2.80" fill="none"/>
<path d="M314.50 704.00L325.50 715.00M314.50 715.00L325.50 704.00" stroke="#a9e29f" stroke-width="2.80" fill="none"/>
<path d="M310.00 713.00 L319.00 720.00" stroke="#a9e29f" stroke-width="13.00" fill="none" stroke-linecap="round" stroke-linejoin="round"/>
<circle cx="429.80" cy="888.00" r="6.20" fill="#5ec46a"/>
<path d="M385.10 810.60L396.10 821.60M385.10 821.60L396.10 810.60" stroke="#5ec46a" stroke-width="2.80" fill="none"/>
<path d="M337.90 755.80L348.90 766.80M337.90 766.80L348.90 755.80" stroke="#5ec46a" stroke-width="2.80" fill="none"/>
<path d="M324.10 746.90L335.10 757.90M324.10 757.90L335.10 746.90" stroke="#5ec46a" stroke-width="2.80" fill="none"/>
<path d="M318.50 745.50L329.50 756.50M318.50 756.50L329.50 745.50" stroke="#5ec46a" stroke-width="2.80" fill="none"/>
<path d="M313.50 744.10L324.50 755.10M313.50 755.10L324.50 744.10" stroke="#5ec46a" stroke-width="2.80" fill="none"/>
<path d="M310.50 740.50L321.50 751.50M310.50 751.50L321.50 740.50" stroke="#5ec46a" stroke-width="2.80" fill="none"/>
<path d="M307.00 740.00 L320.00 727.00" stroke="#5ec46a" stroke-width="13.00" fill="none" stroke-linecap="round" stroke-linejoin="round"/>
<circle cx="334.00" cy="719.30" r="10.40" fill="none" stroke="#0e8436" stroke-width="2.30"/>
<circle cx="445.30" cy="950.80" r="10.40" fill="none" stroke="#2a78c0" stroke-width="2.50"/>
<line x1="444.40" y1="604.00" x2="444.40" y2="1056.30" stroke="#111" stroke-width="2.4" stroke-dasharray="8.4 8.37" stroke-dashoffset="3.97"/>
<line x1="94.80" y1="951.90" x2="550.70" y2="951.90" stroke="#111" stroke-width="2.4" stroke-dasharray="8.4 8.37" stroke-dashoffset="3.97"/>
<rect x="93.50" y="599.20" width="457.20" height="457.10" fill="none" stroke="#000" stroke-width="2.0"/>
<line x1="87.50" y1="599.20" x2="93.50" y2="599.20" stroke="#000" stroke-width="1.9"/>
<line x1="93.50" y1="1056.30" x2="93.50" y2="1062.50" stroke="#000" stroke-width="1.9"/>
<text x="54.81" y="605.50" font-size="17.96" textLength="26.48" lengthAdjust="spacingAndGlyphs" font-weight="normal" font-style="normal" fill="#000" stroke="#000" stroke-width="0.45">0.0</text>
<text x="80.21" y="1081.19" font-size="18.24" textLength="26.58" lengthAdjust="spacingAndGlyphs" font-weight="normal" font-style="normal" fill="#000" stroke="#000" stroke-width="0.45">0.0</text>
<line x1="87.50" y1="669.54" x2="93.50" y2="669.54" stroke="#000" stroke-width="1.9"/>
<line x1="163.84" y1="1056.30" x2="163.84" y2="1062.50" stroke="#000" stroke-width="1.9"/>
<text x="54.81" y="675.83" font-size="17.96" textLength="26.68" lengthAdjust="spacingAndGlyphs" font-weight="normal" font-style="normal" fill="#000" stroke="#000" stroke-width="0.45">0.2</text>
<text x="150.54" y="1081.19" font-size="18.24" textLength="26.79" lengthAdjust="spacingAndGlyphs" font-weight="normal" font-style="normal" fill="#000" stroke="#000" stroke-width="0.45">0.2</text>
<line x1="87.50" y1="739.88" x2="93.50" y2="739.88" stroke="#000" stroke-width="1.9"/>
<line x1="234.18" y1="1056.30" x2="234.18" y2="1062.50" stroke="#000" stroke-width="1.9"/>
<text x="54.81" y="746.17" font-size="17.96" textLength="26.48" lengthAdjust="spacingAndGlyphs" font-weight="normal" font-style="normal" fill="#000" stroke="#000" stroke-width="0.45">0.4</text>
<text x="220.89" y="1081.19" font-size="18.24" textLength="26.58" lengthAdjust="spacingAndGlyphs" font-weight="normal" font-style="normal" fill="#000" stroke="#000" stroke-width="0.45">0.4</text>
<line x1="87.50" y1="810.22" x2="93.50" y2="810.22" stroke="#000" stroke-width="1.9"/>
<line x1="304.52" y1="1056.30" x2="304.52" y2="1062.50" stroke="#000" stroke-width="1.9"/>
<text x="54.81" y="816.51" font-size="17.96" textLength="26.48" lengthAdjust="spacingAndGlyphs" font-weight="normal" font-style="normal" fill="#000" stroke="#000" stroke-width="0.45">0.6</text>
<text x="291.23" y="1081.19" font-size="18.24" textLength="26.58" lengthAdjust="spacingAndGlyphs" font-weight="normal" font-style="normal" fill="#000" stroke="#000" stroke-width="0.45">0.6</text>
<line x1="87.50" y1="880.55" x2="93.50" y2="880.55" stroke="#000" stroke-width="1.9"/>
<line x1="374.85" y1="1056.30" x2="374.85" y2="1062.50" stroke="#000" stroke-width="1.9"/>
<text x="54.81" y="886.85" font-size="17.96" textLength="26.48" lengthAdjust="spacingAndGlyphs" font-weight="normal" font-style="normal" fill="#000" stroke="#000" stroke-width="0.45">0.8</text>
<text x="361.56" y="1081.19" font-size="18.24" textLength="26.58" lengthAdjust="spacingAndGlyphs" font-weight="normal" font-style="normal" fill="#000" stroke="#000" stroke-width="0.45">0.8</text>
<line x1="87.50" y1="950.89" x2="93.50" y2="950.89" stroke="#000" stroke-width="1.9"/>
<line x1="445.19" y1="1056.30" x2="445.19" y2="1062.50" stroke="#000" stroke-width="1.9"/>
<text x="54.32" y="957.19" font-size="17.96" textLength="26.98" lengthAdjust="spacingAndGlyphs" font-weight="normal" font-style="normal" fill="#000" stroke="#000" stroke-width="0.45">1.0</text>
<text x="431.46" y="1081.19" font-size="18.24" textLength="27.04" lengthAdjust="spacingAndGlyphs" font-weight="normal" font-style="normal" fill="#000" stroke="#000" stroke-width="0.45">1.0</text>
<line x1="87.50" y1="1021.23" x2="93.50" y2="1021.23" stroke="#000" stroke-width="1.9"/>
<line x1="515.53" y1="1056.30" x2="515.53" y2="1062.50" stroke="#000" stroke-width="1.9"/>
<text x="54.31" y="1027.71" font-size="18.21" textLength="27.20" lengthAdjust="spacingAndGlyphs" font-weight="normal" font-style="normal" fill="#000" stroke="#000" stroke-width="0.45">1.2</text>
<text x="501.79" y="1081.38" font-size="18.50" textLength="27.25" lengthAdjust="spacingAndGlyphs" font-weight="normal" font-style="normal" fill="#000" stroke="#000" stroke-width="0.45">1.2</text>
<text x="315.08" y="1112.59" font-size="28.64" textLength="16.49" lengthAdjust="spacingAndGlyphs" font-weight="normal" font-style="normal" fill="#000" stroke="#000" stroke-width="0.45">&#945;</text>
<text x="331.90" y="1121.70" font-size="15.46" textLength="6.33" lengthAdjust="spacingAndGlyphs" font-weight="normal" font-style="normal" fill="#000" stroke="#000" stroke-width="0.45">r</text>
<g transform="rotate(-90)">
<text x="-829.53" y="25.27" font-size="27.64" textLength="17.00" lengthAdjust="spacingAndGlyphs" font-weight="normal" font-style="normal" fill="#000" stroke="#000" stroke-width="1.10">&#945;</text>
</g>
<g transform="rotate(-90)">
<text x="-811.24" y="35.72" font-size="15.73" textLength="7.73" lengthAdjust="spacingAndGlyphs" font-weight="normal" font-style="normal" fill="#000" stroke="#000" stroke-width="0.45">s</text>
</g>
<defs><linearGradient id="g599" x1="0" y1="0" x2="0" y2="1"><stop offset="0.000" stop-color="#7e1a14"/><stop offset="0.025" stop-color="#881c16"/><stop offset="0.050" stop-color="#921e18"/><stop offset="0.075" stop-color="#9d1e18"/><stop offset="0.100" stop-color="#a71e18"/><stop offset="0.125" stop-color="#b11e18"/><stop offset="0.150" stop-color="#b9231b"/><stop offset="0.175" stop-color="#c0271d"/><stop offset="0.200" stop-color="#c82d1f"/><stop offset="0.225" stop-color="#cf3121"/><stop offset="0.250" stop-color="#d63523"/><stop offset="0.275" stop-color="#dc3b28"/><stop offset="0.300" stop-color="#e0442f"/><stop offset="0.325" stop-color="#e55038"/><stop offset="0.350" stop-color="#ea5a3f"/><stop offset="0.375" stop-color="#ef6447"/><stop offset="0.400" stop-color="#f26d4b"/><stop offset="0.425" stop-color="#f4754f"/><stop offset="0.450" stop-color="#f77d52"/><stop offset="0.475" stop-color="#f98556"/><stop offset="0.500" stop-color="#fc8c59"/><stop offset="0.525" stop-color="#fc9662"/><stop offset="0.550" stop-color="#fc9f6a"/><stop offset="0.575" stop-color="#fda973"/><stop offset="0.600" stop-color="#fdb27b"/><stop offset="0.625" stop-color="#fdba83"/><stop offset="0.650" stop-color="#fdc089"/><stop offset="0.675" stop-color="#fdc58e"/><stop offset="0.700" stop-color="#fdca94"/><stop offset="0.725" stop-color="#fdcf99"/><stop offset="0.750" stop-color="#fdd49e"/><stop offset="0.775" stop-color="#fdd8a7"/><stop offset="0.800" stop-color="#fddcaf"/><stop offset="0.825" stop-color="#fee0b8"/><stop offset="0.850" stop-color="#fee4c0"/><stop offset="0.875" stop-color="#fee8c8"/><stop offset="0.900" stop-color="#feebd0"/><stop offset="0.925" stop-color="#feeed7"/><stop offset="0.950" stop-color="#fff1de"/><stop offset="0.975" stop-color="#fff4e5"/><stop offset="1.000" stop-color="#fff7ec"/></linearGradient></defs>
<rect x="568.80" y="599.20" width="22.70" height="457.10" fill="url(#g599)" stroke="#000" stroke-width="2.1"/>
<line x1="591.50" y1="599.20" x2="597.10" y2="599.20" stroke="#000" stroke-width="1.7"/>
<text x="603.24" y="605.59" font-size="18.24" textLength="45.02" lengthAdjust="spacingAndGlyphs" font-weight="normal" font-style="normal" fill="#000" stroke="#000" stroke-width="0.45">-2.79</text>
<line x1="591.50" y1="827.75" x2="597.10" y2="827.75" stroke="#000" stroke-width="1.7"/>
<text x="603.24" y="834.14" font-size="18.24" textLength="45.02" lengthAdjust="spacingAndGlyphs" font-weight="normal" font-style="normal" fill="#000" stroke="#000" stroke-width="0.45">-6.42</text>
<line x1="591.50" y1="1056.30" x2="597.10" y2="1056.30" stroke="#000" stroke-width="1.7"/>
<text x="603.24" y="1062.69" font-size="18.24" textLength="55.32" lengthAdjust="spacingAndGlyphs" font-weight="normal" font-style="normal" fill="#000" stroke="#000" stroke-width="0.45">-10.06</text>
<g transform="rotate(-90)">
<text x="-868.86" y="675.74" font-size="25.53" textLength="105.88" lengthAdjust="spacingAndGlyphs" font-weight="normal" font-style="normal" fill="#000" stroke="#fff" stroke-width="0.25">Log(loss)</text>
</g>
<rect x="981.00" y="350.09" width="24.80" height="171.91" fill="#327bb6"/>
<rect x="1021.90" y="496.53" width="24.80" height="25.47" fill="#f5821f"/>
<line x1="993.40" y1="338.08" x2="993.40" y2="362.64" stroke="#151515" stroke-width="6.4"/>
<line x1="986.80" y1="340.08" x2="1000.00" y2="340.08" stroke="#151515" stroke-width="4.0"/>
<line x1="986.80" y1="360.64" x2="1000.00" y2="360.64" stroke="#151515" stroke-width="4.0"/>
<line x1="1034.30" y1="491.80" x2="1034.30" y2="500.53" stroke="#151515" stroke-width="6.4"/>
<line x1="1027.70" y1="493.80" x2="1040.90" y2="493.80" stroke="#151515" stroke-width="4.0"/>
<line x1="1027.70" y1="498.53" x2="1040.90" y2="498.53" stroke="#151515" stroke-width="4.0"/>
<path d="M992.6 329.90 L992.6 296.00 L1005 296.00 M1022 296.00 L1034.3 296.00 L1034.3 487.80" stroke="#111" stroke-width="1.7" fill="none" stroke-linejoin="round"/>
<path d="M1013.50 296.60L1020.80 297.50L1020.80 294.30L1013.50 295.20ZM1012.89 296.25L1015.91 303.28L1018.69 301.68L1014.11 295.55ZM1012.89 295.55L1008.31 301.68L1011.09 303.28L1014.11 296.25ZM1013.50 295.20L1006.20 294.30L1006.20 297.50L1013.50 296.60ZM1014.11 295.55L1011.09 288.52L1008.31 290.12L1012.89 296.25ZM1014.11 296.25L1018.69 290.12L1015.91 288.52L1012.89 295.55Z" fill="#000"/>
<rect x="789.30" y="67.20" width="449.50" height="454.80" fill="none" stroke="#000" stroke-width="3.6"/>
<line x1="781.20" y1="522.00" x2="789.30" y2="522.00" stroke="#000" stroke-width="3.2"/>
<text x="759.63" y="529.75" font-size="22.04" textLength="12.46" lengthAdjust="spacingAndGlyphs" font-weight="normal" font-style="normal" fill="#000" stroke="#000" stroke-width="0.45">0</text>
<line x1="781.20" y1="431.04" x2="789.30" y2="431.04" stroke="#000" stroke-width="3.2"/>
<text x="759.95" y="439.01" font-size="22.68" textLength="12.35" lengthAdjust="spacingAndGlyphs" font-weight="normal" font-style="normal" fill="#000" stroke="#000" stroke-width="0.45">1</text>
<line x1="781.20" y1="340.08" x2="789.30" y2="340.08" stroke="#000" stroke-width="3.2"/>
<text x="759.58" y="348.05" font-size="22.36" textLength="12.76" lengthAdjust="spacingAndGlyphs" font-weight="normal" font-style="normal" fill="#000" stroke="#000" stroke-width="0.45">2</text>
<line x1="781.20" y1="249.12" x2="789.30" y2="249.12" stroke="#000" stroke-width="3.2"/>
<text x="759.83" y="256.87" font-size="22.04" textLength="12.49" lengthAdjust="spacingAndGlyphs" font-weight="normal" font-style="normal" fill="#000" stroke="#000" stroke-width="0.45">3</text>
<line x1="781.20" y1="158.16" x2="789.30" y2="158.16" stroke="#000" stroke-width="3.2"/>
<text x="759.27" y="166.37" font-size="23.01" textLength="12.60" lengthAdjust="spacingAndGlyphs" font-weight="normal" font-style="normal" fill="#000" stroke="#000" stroke-width="0.45">4</text>
<line x1="781.20" y1="67.20" x2="789.30" y2="67.20" stroke="#000" stroke-width="3.2"/>
<text x="760.04" y="74.95" font-size="22.36" textLength="12.25" lengthAdjust="spacingAndGlyphs" font-weight="normal" font-style="normal" fill="#000" stroke="#000" stroke-width="0.45">5</text>
<text x="789.09" y="60.44" font-size="23.64" textLength="60.05" lengthAdjust="spacingAndGlyphs" font-weight="normal" font-style="normal" fill="#000" stroke="#000" stroke-width="0.45">1e&#8722;4</text>
<g transform="rotate(-90)">
<text x="-323.66" y="744.30" font-size="27.21" textLength="57.61" lengthAdjust="spacingAndGlyphs" font-weight="normal" font-style="normal" fill="#000" stroke="#000" stroke-width="0.45">Loss</text>
</g>
<rect x="1045.50" y="80.20" width="179.80" height="88.90" rx="6" ry="6" fill="#fff" stroke="#d6d6d6" stroke-width="3.9"/>
<rect x="1055.9" y="92.90" width="54" height="18.9" fill="#327bb6"/>
<rect x="1055.9" y="132.20" width="54" height="18.9" fill="#f5821f"/>
<text x="1131.17" y="111.30" font-size="27.36" textLength="83.51" lengthAdjust="spacingAndGlyphs" font-weight="normal" font-style="normal" fill="#000" stroke="#000" stroke-width="0.45">Elman</text>
<text x="1131.52" y="150.20" font-size="27.50" textLength="55.91" lengthAdjust="spacingAndGlyphs" font-weight="normal" font-style="normal" fill="#000" stroke="#000" stroke-width="0.45">ARU</text>
<rect x="981.00" y="780.54" width="24.80" height="273.06" fill="#327bb6"/>
<rect x="1021.90" y="1034.49" width="24.80" height="19.11" fill="#f5821f"/>
<line x1="993.40" y1="747.32" x2="993.40" y2="814.40" stroke="#151515" stroke-width="6.4"/>
<line x1="986.80" y1="749.32" x2="1000.00" y2="749.32" stroke="#151515" stroke-width="4.0"/>
<line x1="986.80" y1="812.40" x2="1000.00" y2="812.40" stroke="#151515" stroke-width="4.0"/>
<line x1="1034.30" y1="1029.21" x2="1034.30" y2="1039.22" stroke="#151515" stroke-width="6.4"/>
<line x1="1027.70" y1="1031.21" x2="1040.90" y2="1031.21" stroke="#151515" stroke-width="4.0"/>
<line x1="1027.70" y1="1037.22" x2="1040.90" y2="1037.22" stroke="#151515" stroke-width="4.0"/>
<path d="M992.6 742.60 L992.6 723.60 L1005 723.60 M1022 723.60 L1034.3 723.60 L1034.3 1023.60" stroke="#111" stroke-width="1.7" fill="none" stroke-linejoin="round"/>
<path d="M1013.50 724.20L1020.80 725.10L1020.80 721.90L1013.50 722.80ZM1012.89 723.85L1015.91 730.88L1018.69 729.28L1014.11 723.15ZM1012.89 723.15L1008.31 729.28L1011.09 730.88L1014.11 723.85ZM1013.50 722.80L1006.20 721.90L1006.20 725.10L1013.50 724.20ZM1014.11 723.15L1011.09 716.12L1008.31 717.72L1012.89 723.85ZM1014.11 723.85L1018.69 717.72L1015.91 716.12L1012.89 723.15Z" fill="#000"/>
<rect x="788.30" y="598.50" width="449.40" height="455.10" fill="none" stroke="#000" stroke-width="3.6"/>
<line x1="780.20" y1="1053.60" x2="788.30" y2="1053.60" stroke="#000" stroke-width="3.2"/>
<text x="759.63" y="1061.35" font-size="22.04" textLength="12.46" lengthAdjust="spacingAndGlyphs" font-weight="normal" font-style="normal" fill="#000" stroke="#000" stroke-width="0.45">0</text>
<line x1="780.20" y1="962.58" x2="788.30" y2="962.58" stroke="#000" stroke-width="3.2"/>
<text x="759.95" y="970.55" font-size="22.68" textLength="12.35" lengthAdjust="spacingAndGlyphs" font-weight="normal" font-style="normal" fill="#000" stroke="#000" stroke-width="0.45">1</text>
<line x1="780.20" y1="871.56" x2="788.30" y2="871.56" stroke="#000" stroke-width="3.2"/>
<text x="759.58" y="879.53" font-size="22.36" textLength="12.76" lengthAdjust="spacingAndGlyphs" font-weight="normal" font-style="normal" fill="#000" stroke="#000" stroke-width="0.45">2</text>
<line x1="780.20" y1="780.54" x2="788.30" y2="780.54" stroke="#000" stroke-width="3.2"/>
<text x="759.83" y="788.29" font-size="22.04" textLength="12.49" lengthAdjust="spacingAndGlyphs" font-weight="normal" font-style="normal" fill="#000" stroke="#000" stroke-width="0.45">3</text>
<line x1="780.20" y1="689.52" x2="788.30" y2="689.52" stroke="#000" stroke-width="3.2"/>
<text x="759.27" y="697.73" font-size="23.01" textLength="12.60" lengthAdjust="spacingAndGlyphs" font-weight="normal" font-style="normal" fill="#000" stroke="#000" stroke-width="0.45">4</text>
<line x1="780.20" y1="598.50" x2="788.30" y2="598.50" stroke="#000" stroke-width="3.2"/>
<text x="760.04" y="606.25" font-size="22.36" textLength="12.25" lengthAdjust="spacingAndGlyphs" font-weight="normal" font-style="normal" fill="#000" stroke="#000" stroke-width="0.45">5</text>
<text x="789.09" y="591.74" font-size="23.64" textLength="60.05" lengthAdjust="spacingAndGlyphs" font-weight="normal" font-style="normal" fill="#000" stroke="#000" stroke-width="0.45">1e&#8722;4</text>
<g transform="rotate(-90)">
<text x="-855.16" y="744.30" font-size="27.21" textLength="57.61" lengthAdjust="spacingAndGlyphs" font-weight="normal" font-style="normal" fill="#000" stroke="#000" stroke-width="0.45">Loss</text>
</g>
<rect x="1045.50" y="611.50" width="179.80" height="88.90" rx="6" ry="6" fill="#fff" stroke="#d6d6d6" stroke-width="3.9"/>
<rect x="1055.9" y="624.20" width="54" height="18.9" fill="#327bb6"/>
<rect x="1055.9" y="663.50" width="54" height="18.9" fill="#f5821f"/>
<text x="1131.17" y="642.60" font-size="27.36" textLength="83.51" lengthAdjust="spacingAndGlyphs" font-weight="normal" font-style="normal" fill="#000" stroke="#000" stroke-width="0.45">Elman</text>
<text x="1131.52" y="681.50" font-size="27.50" textLength="55.91" lengthAdjust="spacingAndGlyphs" font-weight="normal" font-style="normal" fill="#000" stroke="#000" stroke-width="0.45">ARU</text>
<text x="882.88" y="53.00" font-size="27.18" textLength="16.14" lengthAdjust="spacingAndGlyphs" font-weight="normal" font-style="italic" fill="#000" stroke="#000" stroke-width="0.45">&#945;</text>
<text x="899.46" y="60.08" font-size="19.65" textLength="12.53" lengthAdjust="spacingAndGlyphs" font-weight="normal" font-style="italic" fill="#000" stroke="#000" stroke-width="0.45">S</text>
<rect x="921.60" y="41.10" width="17.3" height="2.4" fill="#000"/><rect x="921.60" y="46.40" width="17.3" height="2.4" fill="#000"/>
<text x="946.72" y="52.90" font-size="27.25" textLength="58.55" lengthAdjust="spacingAndGlyphs" font-weight="normal" font-style="normal" fill="#000" stroke="#000" stroke-width="0.45">0.68</text>
<path d="M1009.70 47.60L1012.10 47.60L1012.10 50.30L1009.30 56.30L1007.90 56.30Z" fill="#000"/>
<text x="1020.01" y="52.91" font-size="26.64" textLength="15.53" lengthAdjust="spacingAndGlyphs" font-weight="normal" font-style="italic" fill="#000" stroke="#000" stroke-width="0.45">&#945;</text>
<text x="1036.62" y="60.38" font-size="20.37" textLength="12.09" lengthAdjust="spacingAndGlyphs" font-weight="normal" font-style="italic" fill="#000" stroke="#000" stroke-width="0.45">R</text>
<rect x="1058.75" y="41.10" width="17.4" height="2.4" fill="#000"/><rect x="1058.75" y="46.40" width="17.4" height="2.4" fill="#000"/>
<text x="1083.73" y="52.90" font-size="27.25" textLength="58.34" lengthAdjust="spacingAndGlyphs" font-weight="normal" font-style="normal" fill="#000" stroke="#000" stroke-width="0.45">0.34</text>
<text x="881.78" y="584.90" font-size="27.18" textLength="16.14" lengthAdjust="spacingAndGlyphs" font-weight="normal" font-style="italic" fill="#000" stroke="#000" stroke-width="0.45">&#945;</text>
<text x="898.36" y="591.98" font-size="19.65" textLength="12.53" lengthAdjust="spacingAndGlyphs" font-weight="normal" font-style="italic" fill="#000" stroke="#000" stroke-width="0.45">S</text>
<rect x="920.50" y="573.00" width="17.3" height="2.4" fill="#000"/><rect x="920.50" y="578.30" width="17.3" height="2.4" fill="#000"/>
<text x="945.63" y="584.80" font-size="27.25" textLength="57.93" lengthAdjust="spacingAndGlyphs" font-weight="normal" font-style="normal" fill="#000" stroke="#000" stroke-width="0.45">0.34</text>
<path d="M1008.60 579.50L1011.00 579.50L1011.00 582.20L1008.20 588.20L1006.80 588.20Z" fill="#000"/>
<text x="1018.91" y="584.81" font-size="26.64" textLength="15.53" lengthAdjust="spacingAndGlyphs" font-weight="normal" font-style="italic" fill="#000" stroke="#000" stroke-width="0.45">&#945;</text>
<text x="1035.52" y="592.28" font-size="20.37" textLength="12.09" lengthAdjust="spacingAndGlyphs" font-weight="normal" font-style="italic" fill="#000" stroke="#000" stroke-width="0.45">R</text>
<rect x="1057.65" y="573.00" width="17.4" height="2.4" fill="#000"/><rect x="1057.65" y="578.30" width="17.4" height="2.4" fill="#000"/>
<text x="1082.61" y="584.80" font-size="27.25" textLength="58.97" lengthAdjust="spacingAndGlyphs" font-weight="normal" font-style="normal" fill="#000" stroke="#000" stroke-width="0.45">0.68</text>
</svg>
</body></html>
